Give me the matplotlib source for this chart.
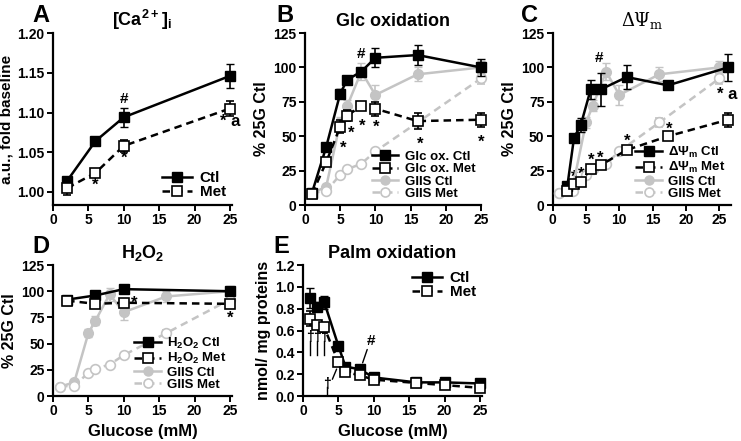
import numpy as np
import matplotlib
matplotlib.use('Agg')
import matplotlib.pyplot as plt
from matplotlib.lines import Line2D

plt.rcParams['font.family'] = ['Liberation Sans', 'DejaVu Sans']
plt.rcParams['font.weight'] = 'bold'
plt.rcParams['axes.labelweight'] = 'bold'
plt.rcParams['axes.titleweight'] = 'bold'
plt.rcParams['mathtext.default'] = 'regular'

GRAY = '#c4c4c4'
DASH = (0, (3, 2))

# --- A: [Ca2+]i
ca_x = [2, 6, 10, 25]
ca_ctl = [1.014, 1.064, 1.094, 1.146]
ca_ctl_err = [0.004, 0.005, 0.012, 0.015]
ca_met = [1.005, 1.024, 1.058, 1.105]
ca_met_err = [0.009, 0.003, 0.008, 0.009]

# --- GIIS (shared by B, C, D)
giis_x = [1, 3, 5, 6, 8, 10, 16, 25]
giis_ctl = [9, 13, 60, 72, 97, 80, 95, 100]
giis_ctl_err = [1, 2, 4, 4, 6, 7, 5, 5]
giis_met = [9, 10, 22, 26, 30, 39, 60, 92]
giis_met_err = [1, 1, 1, 1, 1, 2, 3, 4]

# --- B: glucose oxidation
glc_x = [1, 3, 5, 6, 8, 10, 16, 25]
glc_ctl = [9, 42, 81, 91, 97, 107, 109, 100]
glc_ctl_err = [2, 2, 3, 3, 2, 7, 7, 6]
glc_met = [8, 31, 57, 65, 72, 70, 61, 62]
glc_met_err = [2, 2, 5, 4, 2, 5, 6, 5]

# --- C: mitochondrial potential
psi_x = [2.2, 3.2, 4.2, 5.7, 7.2, 11.1, 17.3, 26.3]
psi_ctl = [14, 49, 58, 84, 84, 93, 87, 100]
psi_ctl_err = [2, 2, 5, 7, 12, 9, 2, 10]
psi_met = [10, 15, 17, 26, 29, 40, 50, 62]
psi_met_err = [1, 1, 2, 2, 2, 2, 2, 5]

# --- D: H2O2
h2o2_x = [2, 6, 10, 25]
h2o2_ctl = [92, 96, 102, 100]
h2o2_ctl_err = [2, 2, 2, 3]
h2o2_met = [91, 88, 89, 88]
h2o2_met_err = [1, 1, 2, 1]

# --- E: palmitate oxidation
palm_x = [1, 2, 3, 5, 6, 8, 10, 16, 20, 25]
palm_ctl = [0.90, 0.82, 0.86, 0.46, 0.27, 0.245, 0.17, 0.125, 0.125, 0.115]
palm_ctl_err = [0.09, 0.04, 0.06, 0.03, 0.03, 0.02, 0.02, 0.01, 0.01, 0.01]
palm_met = [0.71, 0.65, 0.63, 0.31, 0.22, 0.19, 0.15, 0.12, 0.10, 0.075]
palm_met_err = [0.07, 0.03, 0.04, 0.02, 0.02, 0.02, 0.02, 0.01, 0.01, 0.01]

fig = plt.figure(figsize=(7.41, 4.41), dpi=100)

axA = fig.add_axes([0.0715, 0.5351, 0.2416, 0.39])
axB = fig.add_axes([0.4116, 0.5351, 0.2375, 0.39])
axC = fig.add_axes([0.7459, 0.5351, 0.2406, 0.39])
axD = fig.add_axes([0.0715, 0.102, 0.2416, 0.297])
axE = fig.add_axes([0.4089, 0.102, 0.2416, 0.297])


def style(ax):
    for s in ['top', 'right']:
        ax.spines[s].set_visible(False)
    for s in ['left', 'bottom']:
        ax.spines[s].set_linewidth(1.6)
    ax.tick_params(direction='out', length=4, width=1.4, labelsize=10, pad=2)
    for t in ax.get_xticklabels() + ax.get_yticklabels():
        t.set_fontweight('bold')


def black_pair(ax, x, ctl, ctl_err, met, met_err):
    ax.errorbar(x, ctl, yerr=ctl_err, color='k', lw=1.8, marker='s', ms=7,
                mfc='k', mec='k', capsize=3, elinewidth=1.2,
                clip_on=False, zorder=5)
    ax.errorbar(x, met, yerr=met_err, color='k', lw=1.8, ls=DASH, marker='s',
                ms=7, mfc='white', mec='k', mew=1.2, capsize=3, elinewidth=1.2,
                clip_on=False, zorder=6)


def giis(ax):
    ax.errorbar(giis_x, giis_ctl, yerr=giis_ctl_err, color=GRAY, lw=1.8, marker='o',
                ms=7, mfc=GRAY, mec=GRAY, capsize=3, elinewidth=1.2,
                clip_on=False, zorder=3)
    ax.errorbar(giis_x, giis_met, yerr=giis_met_err, color=GRAY, lw=1.8,
                ls=DASH, marker='o', ms=7, mfc='white', mec=GRAY, mew=1.2,
                capsize=3, elinewidth=1.2, clip_on=False, zorder=3)


def leg(ax, labels, loc, fs, with_giis):
    h = [Line2D([], [], color='k', lw=1.8, marker='s', ms=6.5, mfc='k', mec='k'),
         Line2D([], [], color='k', lw=1.8, ls=DASH, marker='s', ms=6.5, mfc='white',
                mec='k', mew=1.2)]
    if with_giis:
        h += [Line2D([], [], color=GRAY, lw=1.8, marker='o', ms=6.5, mfc=GRAY, mec=GRAY),
              Line2D([], [], color=GRAY, lw=1.8, ls=DASH, marker='o', ms=6.5,
                     mfc='white', mec=GRAY, mew=1.2)]
        labels = labels + ['GIIS Ctl', 'GIIS Met']
    ax.legend(h, labels, loc=loc, frameon=False, handlelength=2.0,
              handletextpad=0.5, labelspacing=0.0, borderaxespad=0.0,
              prop={'weight': 'bold', 'size': fs})


# A
black_pair(axA, ca_x, ca_ctl, ca_ctl_err, ca_met, ca_met_err)
axA.set_xlim(0, 25.3)
axA.set_ylim(0.9836, 1.2)
axA.set_yticks([1.00, 1.05, 1.10, 1.15, 1.20])
axA.set_xticks([0, 5, 10, 15, 20, 25])
axA.set_ylabel('a.u., fold baseline', fontsize=11, labelpad=3)
axA.set_title('[Ca$^{2+}$]$_i$', fontsize=13, pad=5)
axA.text(10, 1.112, '#', ha='center', fontsize=11)
axA.text(6, 1.003, '*', ha='center', fontsize=12)
axA.text(10, 1.037, '*', ha='center', fontsize=12)
axA.text(25, 1.083, '* a', ha='center', fontsize=12)
leg(axA, ['Ctl', 'Met'], 'lower right', 11, False)
style(axA)

# B
giis(axB)
black_pair(axB, glc_x, glc_ctl, glc_ctl_err, glc_met, glc_met_err)
axB.set_xlim(0, 25)
axB.set_ylim(0, 125)
axB.set_yticks(range(0, 126, 25))
axB.set_xticks([0, 5, 10, 15, 20, 25])
axB.set_ylabel('% 25G Ctl', fontsize=11.5, labelpad=3)
axB.set_title('Glc oxidation', fontsize=13, pad=5)
axB.text(8, 107, '#', ha='center', fontsize=11)
for sx, sy in [(5.4, 38), (6.5, 49), (8.1, 54), (10.1, 53), (16.3, 41), (25, 42)]:
    axB.text(sx, sy, '*', ha='center', fontsize=12)
leg(axB, ['Glc ox. Ctl', 'Glc ox. Met'], 'lower right', 9.5, True)
style(axB)

# C
giis(axC)
black_pair(axC, psi_x, psi_ctl, psi_ctl_err, psi_met, psi_met_err)
axC.set_xlim(0, 26.75)
axC.set_ylim(0, 125)
axC.set_yticks(range(0, 126, 25))
axC.set_xticks([0, 5, 10, 15, 20, 25])
axC.set_ylabel('% 25G Ctl', fontsize=11.5, labelpad=3)
axC.set_title(r'$\Delta\Psi_m$', fontsize=13, pad=5, family=['DejaVu Serif'],
              fontweight='normal')
axC.text(7.0, 104, '#', ha='center', fontsize=11)
for sx, sy in [(3.2, 17), (4.2, 19), (5.7, 29), (7.1, 31), (11.1, 43), (17.4, 52)]:
    axC.text(sx, sy, '*', ha='center', fontsize=12)
axC.text(26.2, 77, '* a', ha='center', fontsize=12)
leg(axC, [r'$\Delta\Psi_m$ Ctl', r'$\Delta\Psi_m$ Met'], 'lower right', 9.5, True)
style(axC)

# D
giis(axD)
black_pair(axD, h2o2_x, h2o2_ctl, h2o2_ctl_err, h2o2_met, h2o2_met_err)
axD.set_xlim(0, 25.3)
axD.set_ylim(0, 125)
axD.set_yticks(range(0, 126, 25))
axD.set_xticks([0, 5, 10, 15, 20, 25])
axD.set_ylabel('% 25G Ctl', fontsize=11.5, labelpad=3)
axD.set_xlabel('Glucose (mM)', fontsize=12)
axD.set_title('H$_2$O$_2$', fontsize=13, pad=5)
axD.text(11.5, 84, '*', ha='center', fontsize=12)
axD.text(25, 70, '*', ha='center', fontsize=12)
leg(axD, ['H$_2$O$_2$ Ctl', 'H$_2$O$_2$ Met'], 'lower right', 9.5, True)
style(axD)

# E
black_pair(axE, palm_x, palm_ctl, palm_ctl_err, palm_met, palm_met_err)
axE.set_xlim(0, 25.3)
axE.set_ylim(0, 1.2)
axE.set_yticks(np.arange(0, 1.21, 0.2))
axE.set_yticklabels(['0.0', '0.2', '0.4', '0.6', '0.8', '1.0', '1.2'])
axE.set_xticks([0, 5, 10, 15, 20, 25])
axE.set_ylabel('nmol/ mg proteins', fontsize=11.5, labelpad=3)
axE.set_xlabel('Glucose (mM)', fontsize=12)
axE.set_title('Palm oxidation', fontsize=13, pad=5)
for dx in [1, 2, 3]:
    axE.text(dx, 0.50, '†', ha='center', fontsize=10)
    axE.plot([dx, dx], [0.38, 0.50], color='k', lw=1)
axE.text(3.4, 0.07, '†', ha='center', fontsize=10)
axE.plot([3.4, 3.4], [0.0, 0.08], color='k', lw=1)
axE.annotate('', xy=(4.9, 0.27), xytext=(4.0, 0.13),
             arrowprops=dict(arrowstyle='-', color='k', lw=1))
axE.text(9.6, 0.47, '#', ha='center', fontsize=11)
axE.annotate('', xy=(8.3, 0.28), xytext=(9.2, 0.45),
             arrowprops=dict(arrowstyle='-', color='k', lw=1))
leg(axE, ['Ctl', 'Met'], 'upper right', 11, False)
style(axE)

# panel letters
for lx, ly, lab in [(0.055, 0.965, 'A'), (0.385, 0.965, 'B'), (0.715, 0.965, 'C'),
                    (0.055, 0.44, 'D'), (0.38, 0.44, 'E')]:
    fig.text(lx, ly, lab, fontsize=17, fontweight='bold', ha='center', va='center')

fig.savefig('out.png', dpi=100)
